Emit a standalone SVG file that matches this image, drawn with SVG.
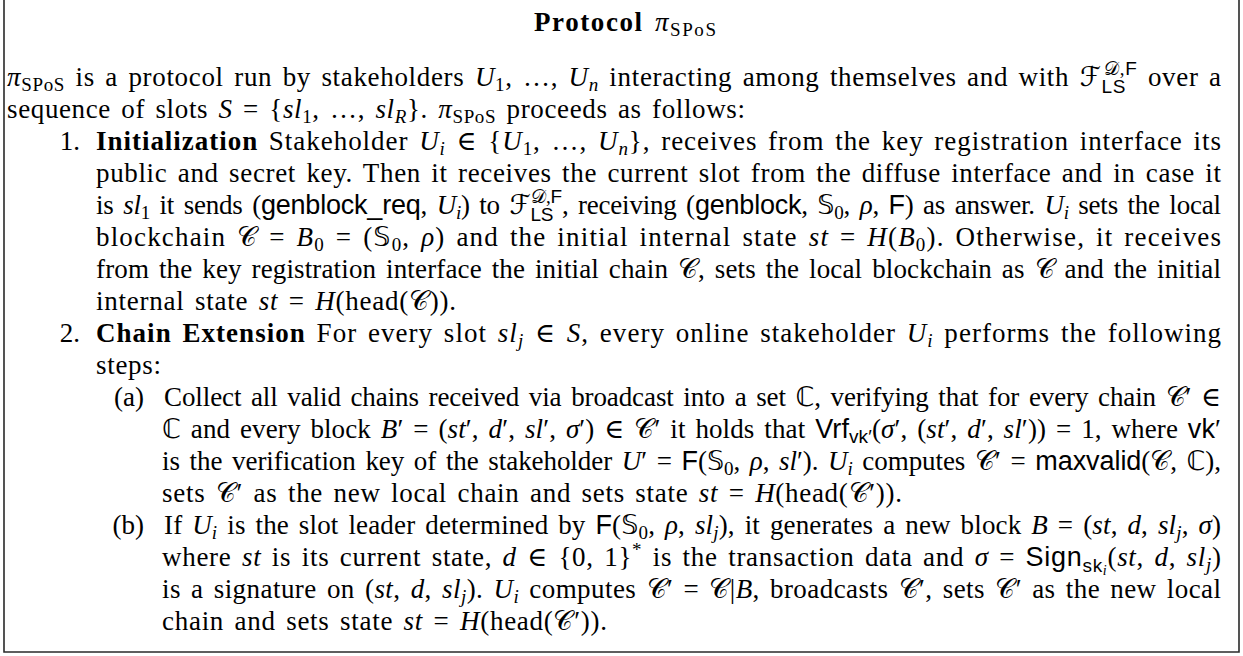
<svg xmlns="http://www.w3.org/2000/svg" width="1243" height="656" viewBox="0 0 1243 656">
  <style>
    .t { font-family: "Liberation Serif", "DejaVu Serif", serif; font-size: 27px; fill: #000; word-spacing: 3px; }
    .i { font-style: italic; }
    .b { font-weight: bold; }
    .s { font-size: 19px; }
    .ss { font-size: 14px; }
    .sf { font-family: "Liberation Sans", "DejaVu Sans", sans-serif; font-style: normal; }
    .c { font-family: "DejaVu Sans", "DejaVu Serif", "Noto Sans", sans-serif; font-style: normal; }
    .lbl { text-anchor: end; }
    .frame { fill: none; stroke: #2a2a2a; stroke-width: 1.6; }
  </style>

  <!-- open frame: left, bottom and right sides -->
  <path class="frame" d="M4,0 V652 H1239 V0"/>

  <!-- heading -->
  <g id="title">
    <text class="t" x="534" y="31" textLength="182" lengthAdjust="spacing"><tspan class="b">Protocol</tspan> <tspan class="i">π</tspan><tspan class="s" dy="5">SPoS</tspan></text>
  </g>

  <!-- opening paragraph -->
  <g id="intro">
    <text class="t" x="7" y="86" textLength="1214" lengthAdjust="spacing"><tspan class="i">π</tspan><tspan class="s" dy="5">SPoS</tspan><tspan dy="-5"> is a protocol run by stakeholders </tspan><tspan class="i">U</tspan><tspan class="s" dy="5">1</tspan><tspan dy="-5">, …, </tspan><tspan class="i">U</tspan><tspan class="s i" dy="5">n</tspan><tspan dy="-5"> interacting among themselves and with </tspan><tspan class="c">ℱ</tspan><tspan class="s sf" dy="7">LS</tspan><tspan class="s" dx="-22" dy="-18"><tspan class="c">𝒟</tspan>,<tspan class="sf">F</tspan></tspan><tspan dy="11"> over a</tspan></text>
    <text class="t" x="7" y="118" textLength="738" lengthAdjust="spacing">sequence of slots <tspan class="i">S</tspan> = {<tspan class="i">sl</tspan><tspan class="s" dy="5">1</tspan><tspan dy="-5">, …, </tspan><tspan class="i">sl</tspan><tspan class="s i" dy="5">R</tspan><tspan dy="-5">}. </tspan><tspan class="i">π</tspan><tspan class="s" dy="5">SPoS</tspan><tspan dy="-5"> proceeds as follows:</tspan></text>
  </g>

  <!-- step 1 -->
  <g id="step-init">
    <text class="t lbl" x="80" y="150">1.</text>
    <text class="t" x="96" y="150" textLength="1125" lengthAdjust="spacing"><tspan class="b">Initialization</tspan> Stakeholder <tspan class="i">U</tspan><tspan class="s i" dy="5">i</tspan><tspan dy="-5"> ∈ {</tspan><tspan class="i">U</tspan><tspan class="s" dy="5">1</tspan><tspan dy="-5">, …, </tspan><tspan class="i">U</tspan><tspan class="s i" dy="5">n</tspan><tspan dy="-5">}, receives from the key registration interface its</tspan></text>
    <text class="t" x="96" y="182" textLength="1125" lengthAdjust="spacing">public and secret key. Then it receives the current slot from the diffuse interface and in case it</text>
    <text class="t" x="96" y="214" textLength="1125" lengthAdjust="spacing">is <tspan class="i">sl</tspan><tspan class="s" dy="5">1</tspan><tspan dy="-5"> it sends (</tspan><tspan class="sf">genblock_req</tspan>, <tspan class="i">U</tspan><tspan class="s i" dy="5">i</tspan><tspan dy="-5">) to </tspan><tspan class="c">ℱ</tspan><tspan class="s sf" dy="7">LS</tspan><tspan class="s" dx="-22" dy="-18"><tspan class="c">𝒟</tspan>,<tspan class="sf">F</tspan></tspan><tspan dy="11">, receiving (</tspan><tspan class="sf">genblock</tspan>, <tspan class="c">𝕊</tspan><tspan class="s" dy="5">0</tspan><tspan dy="-5">, </tspan><tspan class="i">ρ</tspan>, <tspan class="sf">F</tspan>) as answer. <tspan class="i">U</tspan><tspan class="s i" dy="5">i</tspan><tspan dy="-5"> sets the local</tspan></text>
    <text class="t" x="96" y="246" textLength="1125" lengthAdjust="spacing">blockchain <tspan class="c">𝒞</tspan> = <tspan class="i">B</tspan><tspan class="s" dy="5">0</tspan><tspan dy="-5"> = (</tspan><tspan class="c">𝕊</tspan><tspan class="s" dy="5">0</tspan><tspan dy="-5">, </tspan><tspan class="i">ρ</tspan>) and the initial internal state <tspan class="i">st</tspan> = <tspan class="i">H</tspan>(<tspan class="i">B</tspan><tspan class="s" dy="5">0</tspan><tspan dy="-5">). Otherwise, it receives</tspan></text>
    <text class="t" x="96" y="278" textLength="1125" lengthAdjust="spacing">from the key registration interface the initial chain <tspan class="c">𝒞</tspan>, sets the local blockchain as <tspan class="c">𝒞</tspan> and the initial</text>
    <text class="t" x="96" y="310" textLength="360" lengthAdjust="spacing">internal state <tspan class="i">st</tspan> = <tspan class="i">H</tspan>(head(<tspan class="c">𝒞</tspan>)).</text>
  </g>

  <!-- step 2 -->
  <g id="step-extend">
    <text class="t lbl" x="80" y="342">2.</text>
    <text class="t" x="96" y="342" textLength="1125" lengthAdjust="spacing"><tspan class="b">Chain Extension</tspan> For every slot <tspan class="i">sl</tspan><tspan class="s i" dy="5">j</tspan><tspan dy="-5"> ∈ </tspan><tspan class="i">S</tspan>, every online stakeholder <tspan class="i">U</tspan><tspan class="s i" dy="5">i</tspan><tspan dy="-5"> performs the following</tspan></text>
    <text class="t" x="96" y="374" textLength="65" lengthAdjust="spacing">steps:</text>
  </g>

  <!-- step 2(a) -->
  <g id="step-collect">
    <text class="t lbl" x="144" y="406">(a)</text>
    <text class="t" x="164" y="406" textLength="1057" lengthAdjust="spacing">Collect all valid chains received via broadcast into a set <tspan class="c">ℂ</tspan>, verifying that for every chain <tspan class="c">𝒞</tspan>′ ∈</text>
    <text class="t" x="162" y="438" textLength="1059" lengthAdjust="spacing"><tspan class="c">ℂ</tspan> and every block <tspan class="i">B</tspan>′ = (<tspan class="i">st</tspan>′, <tspan class="i">d</tspan>′, <tspan class="i">sl</tspan>′, <tspan class="i">σ</tspan>′) ∈ <tspan class="c">𝒞</tspan>′ it holds that <tspan class="sf">Vrf</tspan><tspan class="s sf" dy="5">vk′</tspan><tspan dy="-5">(</tspan><tspan class="i">σ</tspan>′, (<tspan class="i">st</tspan>′, <tspan class="i">d</tspan>′, <tspan class="i">sl</tspan>′)) = 1, where <tspan class="sf">vk</tspan>′</text>
    <text class="t" x="162" y="470" textLength="1059" lengthAdjust="spacing">is the verification key of the stakeholder <tspan class="i">U</tspan>′ = <tspan class="sf">F</tspan>(<tspan class="c">𝕊</tspan><tspan class="s" dy="5">0</tspan><tspan dy="-5">, </tspan><tspan class="i">ρ</tspan>, <tspan class="i">sl</tspan>′). <tspan class="i">U</tspan><tspan class="s i" dy="5">i</tspan><tspan dy="-5"> computes </tspan><tspan class="c">𝒞</tspan>′ = <tspan class="sf">maxvalid</tspan>(<tspan class="c">𝒞</tspan>, <tspan class="c">ℂ</tspan>),</text>
    <text class="t" x="162" y="502" textLength="740" lengthAdjust="spacing">sets <tspan class="c">𝒞</tspan>′ as the new local chain and sets state <tspan class="i">st</tspan> = <tspan class="i">H</tspan>(head(<tspan class="c">𝒞</tspan>′)).</text>
  </g>

  <!-- step 2(b) -->
  <g id="step-forge">
    <text class="t lbl" x="144" y="534">(b)</text>
    <text class="t" x="164" y="534" textLength="1057" lengthAdjust="spacing">If <tspan class="i">U</tspan><tspan class="s i" dy="5">i</tspan><tspan dy="-5"> is the slot leader determined by </tspan><tspan class="sf">F</tspan>(<tspan class="c">𝕊</tspan><tspan class="s" dy="5">0</tspan><tspan dy="-5">, </tspan><tspan class="i">ρ</tspan>, <tspan class="i">sl</tspan><tspan class="s i" dy="5">j</tspan><tspan dy="-5">), it generates a new block </tspan><tspan class="i">B</tspan> = (<tspan class="i">st</tspan>, <tspan class="i">d</tspan>, <tspan class="i">sl</tspan><tspan class="s i" dy="5">j</tspan><tspan dy="-5">, </tspan><tspan class="i">σ</tspan>)</text>
    <text class="t" x="162" y="566" textLength="1059" lengthAdjust="spacing">where <tspan class="i">st</tspan> is its current state, <tspan class="i">d</tspan> ∈ {0, 1}<tspan class="s" dy="-10">*</tspan><tspan dy="10"> is the transaction data and </tspan><tspan class="i">σ</tspan> = <tspan class="sf">Sign</tspan><tspan class="s sf" dy="6">sk</tspan><tspan class="ss i" dy="3">i</tspan><tspan dy="-9">(</tspan><tspan class="i">st</tspan>, <tspan class="i">d</tspan>, <tspan class="i">sl</tspan><tspan class="s i" dy="5">j</tspan><tspan dy="-5">)</tspan></text>
    <text class="t" x="162" y="598" textLength="1059" lengthAdjust="spacing">is a signature on (<tspan class="i">st</tspan>, <tspan class="i">d</tspan>, <tspan class="i">sl</tspan><tspan class="s i" dy="5">j</tspan><tspan dy="-5">). </tspan><tspan class="i">U</tspan><tspan class="s i" dy="5">i</tspan><tspan dy="-5"> computes </tspan><tspan class="c">𝒞</tspan>′ = <tspan class="c">𝒞</tspan>|<tspan class="i">B</tspan>, broadcasts <tspan class="c">𝒞</tspan>′, sets <tspan class="c">𝒞</tspan>′ as the new local</text>
    <text class="t" x="162" y="630" textLength="445" lengthAdjust="spacing">chain and sets state <tspan class="i">st</tspan> = <tspan class="i">H</tspan>(head(<tspan class="c">𝒞</tspan>′)).</text>
  </g>
</svg>
